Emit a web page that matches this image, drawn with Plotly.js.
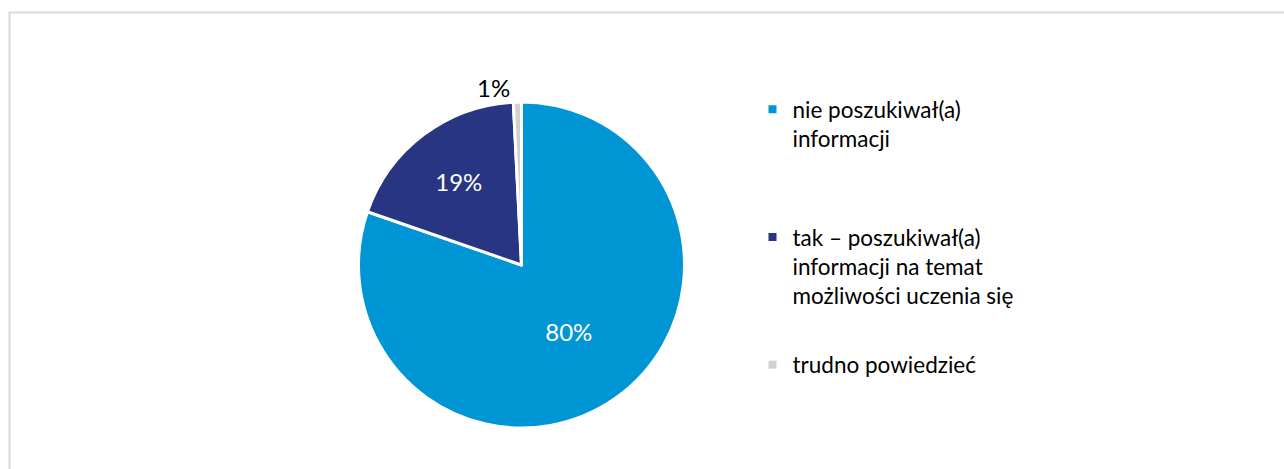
<!DOCTYPE html>
<html>
<head>
<meta charset="utf-8">
<script src="https://cdn.plot.ly/plotly-3.0.1.min.js"></script>
<style>
  html, body { margin: 0; padding: 0; background: #ffffff; }
  #chart { width: 1284px; height: 469px; }
</style>
</head>
<body>
<div id="chart"></div>
<script>
// Data
const categories = [
  "nie poszukiwał(a) informacji",
  "tak – poszukiwał(a) informacji na temat możliwości uczenia się",
  "trudno powiedzieć"
];
// legend labels (wrapped as in the reference)
const legendLabels = [
  "nie poszukiwał(a)<br>informacji<br> ",
  "tak – poszukiwał(a)<br>informacji na temat<br>możliwości uczenia się",
  "trudno powiedzieć"
];
const values = [80.3, 18.9, 0.8];
const valueLabels = ["80%", "19%", "1%"];
const colors = ["#0096D6", "#283583", "#D0D0D0"];

const FONT = "Lato, 'Open Sans', sans-serif";

const pieTrace = {
  type: "pie",
  labels: categories,
  values: values,
  text: valueLabels,
  textinfo: "text",
  textposition: ["inside", "inside", "outside"],
  insidetextfont: { color: "#ffffff", size: 24, family: FONT },
  outsidetextfont: { color: "#000000", size: 24, family: FONT },
  sort: false,
  direction: "clockwise",
  rotation: 0,
  marker: { colors: colors, line: { color: "#ffffff", width: 3 } },
  domain: { x: [358 / 1284, 685 / 1284], y: [1 - 428 / 469, 1 - 102 / 469] },
  hoverinfo: "label+percent",
  showlegend: false,
  automargin: false
};

// Legend entries, one per category, built from the same arrays
const legendTraces = categories.map((c, i) => ({
  type: "scatter",
  mode: "markers",
  x: [null],
  y: [null],
  name: legendLabels[i],
  legendgroup: "g" + i,
  showlegend: true,
  marker: { symbol: "square", size: 8, color: colors[i] },
  hoverinfo: "skip"
}));

const layout = {
  width: 1284,
  height: 469,
  margin: { l: 0, r: 0, t: 0, b: 0 },
  paper_bgcolor: "#ffffff",
  plot_bgcolor: "rgba(0,0,0,0)",
  font: { family: FONT, color: "#000000", size: 22.5 },
  xaxis: { visible: false },
  yaxis: { visible: false },
  showlegend: true,
  legend: {
    x: 752.5 / 1284,
    xanchor: "left",
    y: 1 - 88 / 469,
    yanchor: "top",
    valign: "top",
    tracegroupgap: 37,
    traceorder: "grouped",
    font: { family: FONT, size: 22.5, color: "#000000" },
    bgcolor: "rgba(0,0,0,0)"
  },
  shapes: [{
    type: "rect",
    xref: "paper", yref: "paper",
    x0: 9.5 / 1284, x1: 1.01,
    y0: -0.01, y1: 1 - 12.5 / 469,
    line: { color: "#D9D9D9", width: 2 },
    fillcolor: "rgba(0,0,0,0)"
  }]
};

Plotly.newPlot("chart", [pieTrace].concat(legendTraces), layout, { displayModeBar: false, staticPlot: true });
</script>
</body>
</html>
